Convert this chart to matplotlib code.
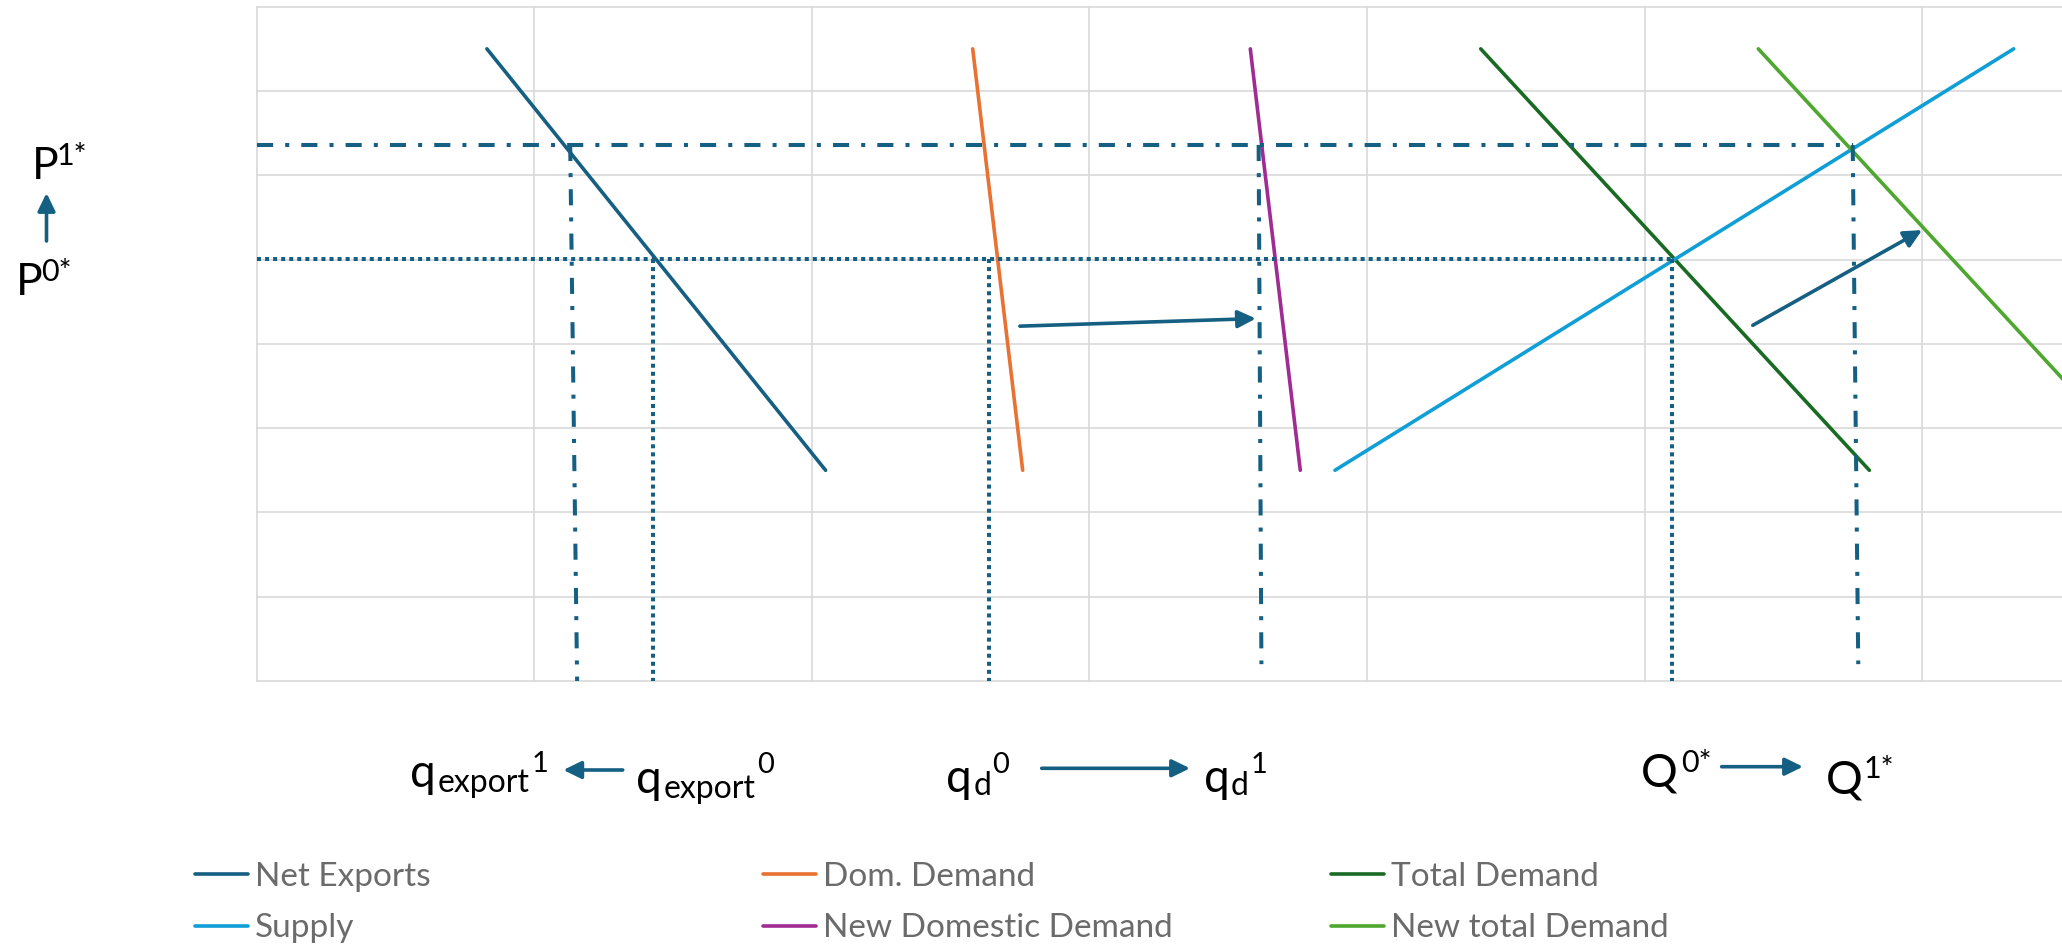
import matplotlib
matplotlib.use("Agg")
import matplotlib.pyplot as plt

plt.rcParams['font.family'] = ['Lato', 'DejaVu Sans']

W, H = 2062, 951

# curves: quantity at the two price ends
price_ends = [7.5, 2.5]
net_exports_q = [0.83, 2.05]
dom_demand_q = [2.58, 2.76]
new_dom_demand_q = [3.58, 3.76]
total_demand_q = [4.41, 5.81]
new_total_demand_q = [5.41, 6.81]
supply_q = [3.885, 6.33]
supply_p = [2.5, 7.5]

series = ["Net Exports", "Dom. Demand", "Total Demand",
          "Supply", "New Domestic Demand", "New total Demand"]
colors = ["#156082", "#E97132", "#196B24", "#0F9ED5", "#A02B93", "#4EA72E"]

# old / new equilibrium guides
p0 = 5.01
p1 = 6.36
q_old = [1.43, 2.64, 5.10]            # q_export0, q_d0, Q0*
q_new_top = [1.13, 3.61, 5.75]        # q_export1, q_d1, Q1*
q_new_bottom = [1.155, 3.62, 5.77]
q_new_floor = [0.0, 0.2, 0.2]

# shift arrows inside the plot (start, end)
dom_shift = [(2.75, 4.21), (3.60, 4.30)]
tot_shift = [(5.39, 4.22), (6.00, 5.35)]

guide_col = "#156082"
dotted = (0, (1, 1))
dashdot = (0, (4, 3, 1, 3))


def fx(px):
    return px / W


def fy(py):
    return 1 - py / H


fig = plt.figure(figsize=(W / 100, H / 100), dpi=100)
ax = fig.add_axes([fx(256.5), fy(681), 7 * 277.6 / W, 674.3 / H])
ax.set_xlim(0, 7)
ax.set_ylim(0, 8)
ax.set_xticks(range(8))
ax.set_yticks(range(9))
ax.tick_params(length=0, labelbottom=False, labelleft=False)
for s in ax.spines.values():
    s.set_visible(False)
ax.grid(True, color="#d9d9d9", lw=1.2)
ax.set_axisbelow(True)
for gl in ax.get_xgridlines() + ax.get_ygridlines():
    gl.set_clip_on(False)

curve_q = [net_exports_q, dom_demand_q, total_demand_q,
           supply_q, new_dom_demand_q, new_total_demand_q]
handles = []
for name, col, q in zip(series, colors, curve_q):
    p = supply_p if name == "Supply" else price_ends
    ln, = ax.plot(q, p, color=col, lw=2.6, solid_capstyle="round", label=name)
    handles.append(ln)

# guide lines
ax.plot([0, q_old[2]], [p0, p0], color=guide_col, lw=2.9, ls=dotted)
for q in q_old:
    ax.plot([q, q], [p0, 0], color=guide_col, lw=2.9, ls=dotted)
ax.plot([0, q_new_top[2]], [p1, p1], color=guide_col, lw=2.9, ls=dashdot)
for qt, qb, fl in zip(q_new_top, q_new_bottom, q_new_floor):
    ax.plot([qt, qb], [p1, fl], color=guide_col, lw=2.9, ls=dashdot)

arrow = dict(arrowstyle="-|>,head_length=0.45,head_width=0.22", color=guide_col,
             lw=2.6, mutation_scale=24, shrinkA=0, shrinkB=0)
for (a, b) in [dom_shift, tot_shift]:
    ax.annotate("", xy=b, xytext=a, arrowprops=arrow)

# annotation arrows outside the plot (figure pixels)
for a, b in [((46.5, 241), (46.5, 193)),
             ((622.7, 770), (563.3, 770)),
             ((1041.7, 768.3), (1190, 768.3)),
             ((1721.7, 766.7), (1803, 766.7))]:
    ax.annotate("", xy=(fx(b[0]), fy(b[1])), xytext=(fx(a[0]), fy(a[1])),
                xycoords="figure fraction", textcoords="figure fraction",
                arrowprops=arrow, annotation_clip=False)

# labels: (text, left px, baseline px, size)
pieces = [
    ("P", 31.5, 179.5, 32), ("1*", 57, 165, 22),
    ("P", 16, 294.8, 32), ("0*", 41.5, 281.4, 22),
    ("q", 409.5, 786.7, 33), ("export", 438, 791.7, 23), ("1", 532, 771.7, 21),
    ("q", 636, 793.3, 33), ("export", 664, 798, 23), ("0", 757, 773.3, 21),
    ("q", 946, 791.7, 33), ("d", 974, 795, 23), ("0", 992, 773.3, 21),
    ("q", 1204, 791.7, 33), ("d", 1231, 795, 23), ("1", 1251, 773.3, 21),
    ("Q", 1641, 786.7, 33), ("0*", 1681, 771.7, 22),
    ("Q", 1826, 793.3, 33), ("1*", 1864, 778.3, 22),
]
for s, px, py, size in pieces:
    fig.text(fx(px), fy(py), s, fontsize=size, va="baseline", ha="left", color="black")

# legend: three columns of two entries
cols = [(handles[0], handles[3]), (handles[1], handles[4]), (handles[2], handles[5])]
for xpx, hs in zip([194.6, 762.7, 1330.8], cols):
    fig.legend(handles=list(hs), loc="center left", bbox_to_anchor=(fx(xpx), fy(902.5)),
               frameon=False, fontsize=24, labelcolor="#6b6b6b", handlelength=1.6,
               handletextpad=0.2, labelspacing=0.65, borderpad=0, borderaxespad=0)

fig.savefig("out.png", dpi=100)
